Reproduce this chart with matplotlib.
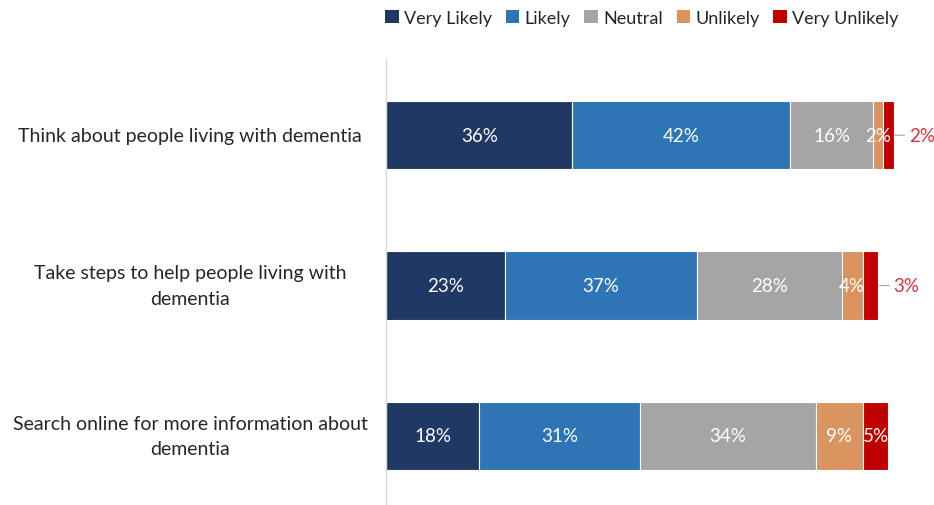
import matplotlib
matplotlib.use("Agg")
import matplotlib.pyplot as plt
import matplotlib.transforms as mtransforms
from matplotlib.patches import Patch
import numpy as np

plt.rcParams['font.family'] = ['Lato', 'DejaVu Sans']

categories = [
    "Think about people living with dementia",
    "Take steps to help people living with\ndementia",
    "Search online for more information about\ndementia",
]
series_names = ["Very Likely", "Likely", "Neutral", "Unlikely", "Very Unlikely"]
very_likely = [36, 23, 18]
likely = [42, 37, 31]
neutral = [16, 28, 34]
unlikely = [2, 4, 9]
very_unlikely = [2, 3, 5]

colors = ["#203864", "#2E75B6", "#A5A5A5", "#D99460", "#C00000"]
outside_color = "#D9323F"

series = [very_likely, likely, neutral, unlikely, very_unlikely]

fig = plt.figure(figsize=(9.34, 5.06), dpi=100)
ax = fig.add_axes([386 / 934, 0.0, 548 / 934, 1 - 60 / 506])

y = np.arange(len(categories))
left = np.zeros(len(categories))
bar_h = 0.453
for si, (vals, col) in enumerate(zip(series, colors)):
    vals = np.array(vals, dtype=float)
    ax.barh(y, vals, left=left, height=bar_h, color=col,
            edgecolor="white", linewidth=0.8)
    for i, v in enumerate(vals):
        center = left[i] + v / 2
        outside = si == len(series) - 1 and v < 4
        if outside:
            end = left[i] + v
            ax.annotate(f"{int(v)}%", xy=(end, y[i]), xytext=(11, 0),
                        textcoords="offset points", ha="left", va="center",
                        fontsize=13.5, color=outside_color,
                        arrowprops=dict(arrowstyle="-", color="#A5A5A5",
                                        lw=0.8, shrinkA=1, shrinkB=1))
        else:
            ax.text(center, y[i], f"{int(v)}%", ha="center", va="center",
                    fontsize=13.5, color="white")
    left = left + vals

ax.set_xlim(0, 105.8)
ax.set_ylim(2.46, -0.507)
ax.set_xticks([])
ax.set_yticks([])
for s in ["top", "right", "bottom"]:
    ax.spines[s].set_visible(False)
ax.spines["left"].set_color("#D9D9D9")
ax.spines["left"].set_linewidth(1.0)

# Category labels, centred in the space left of the axis
label_tf = mtransforms.blended_transform_factory(fig.transFigure, ax.transData)
for yi, cat in zip(y, categories):
    fig.text(190 / 934, yi, cat, transform=label_tf, ha="center", va="center",
             multialignment="center", fontsize=14, color="#262626",
             linespacing=1.6)

handles = [Patch(facecolor=c, edgecolor="none") for c in colors]
fig.legend(handles, series_names, loc="center", bbox_to_anchor=(642 / 934, 1 - 19 / 506),
           ncol=5, frameon=False, fontsize=13, handlelength=0.75, handleheight=0.75,
           handletextpad=0.3, columnspacing=0.75, borderaxespad=0,
           labelcolor="#262626")

fig.savefig("out.png", dpi=100)
